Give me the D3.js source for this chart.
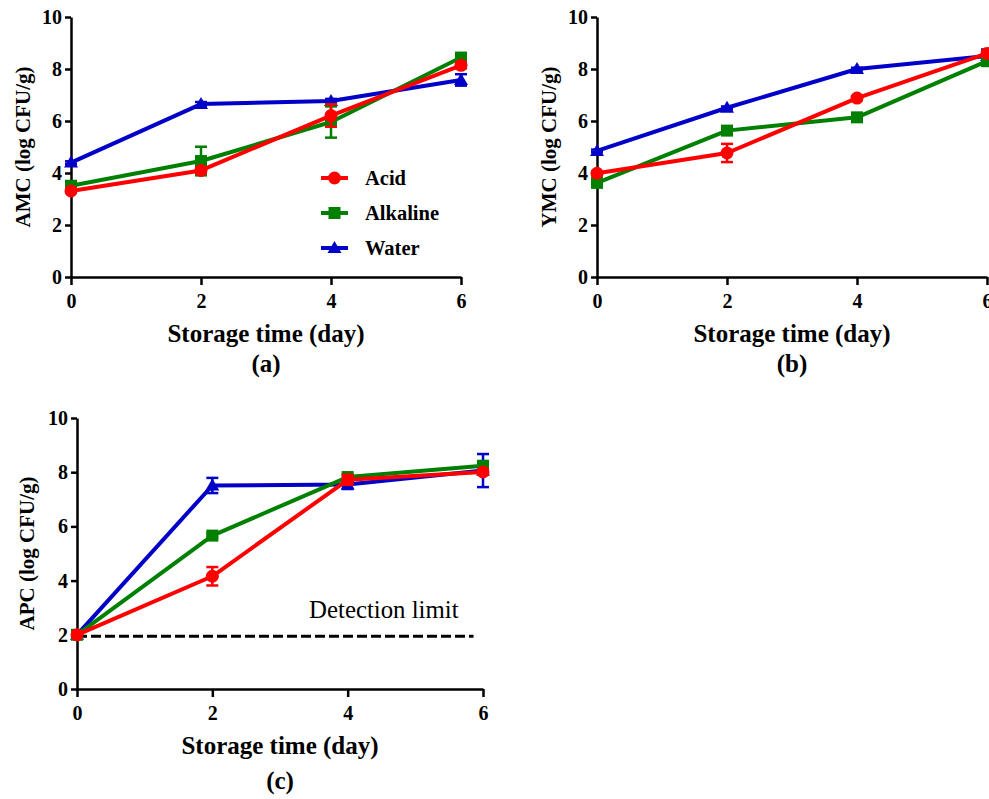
<!DOCTYPE html>
<html>
<head>
<meta charset="utf-8">
<script src="https://cdn.jsdelivr.net/npm/d3@7"></script>
<style>
  body { margin: 0; background: #fff; }
  svg, svg text { font-family: "Liberation Serif", "Times New Roman", Times, "DejaVu Serif", serif; }
</style>
</head>
<body>
<svg id="chart" width="989" height="799"></svg>
<script>
var serifFont = "'Liberation Serif', 'Times New Roman', Times, 'DejaVu Serif', serif";

// storage days and y ticks
var days = [0, 2, 4, 6];
var yTicks = [0, 2, 4, 6, 8, 10];
var seriesNames = ["Acid", "Alkaline", "Water"];
var seriesColors = ["#ff0000", "#008000", "#0000c8"];

// (a) AMC
var amcAcid = [3.31, 4.10, 6.21, 8.14];
var amcAcidErr = [0.08, 0.12, 0.43, 0.12];
var amcAlkaline = [3.51, 4.46, 5.96, 8.44];
var amcAlkalineErr = [0.10, 0.55, 0.60, 0.10];
var amcWater = [4.40, 6.65, 6.77, 7.58];
var amcWaterErr = [0.05, 0.08, 0.08, 0.22];

// (b) YMC
var ymcAcid = [3.99, 4.77, 6.88, 8.60];
var ymcAcidErr = [0.08, 0.35, 0.08, 0.10];
var ymcAlkaline = [3.62, 5.63, 6.14, 8.30];
var ymcAlkalineErr = [0.08, 0.08, 0.08, 0.15];
var ymcWater = [4.85, 6.51, 8.00, 8.50];
var ymcWaterErr = [0.05, 0.05, 0.05, 0.25];

// (c) APC
var apcAcid = [2.00, 4.16, 7.72, 8.01];
var apcAcidErr = [0.02, 0.34, 0.18, 0.10];
var apcAlkaline = [2.00, 5.66, 7.82, 8.24];
var apcAlkalineErr = [0.02, 0.08, 0.08, 0.10];
var apcWater = [2.00, 7.51, 7.55, 8.06];
var apcWaterErr = [0.02, 0.28, 0.17, 0.61];
var detectionLimit = 1.95;

var panels = [
  { tag: "(a)", yLabel: "AMC (log CFU/g)", left: 71, top: 17, width: 390, height: 260, yLabelX: 23, tagGap: 95,
    means: [amcAcid, amcAlkaline, amcWater], errs: [amcAcidErr, amcAlkalineErr, amcWaterErr], legend: true },
  { tag: "(b)", yLabel: "YMC (log CFU/g)", left: 597, top: 17, width: 390, height: 260, yLabelX: 549, tagGap: 95,
    means: [ymcAcid, ymcAlkaline, ymcWater], errs: [ymcAcidErr, ymcAlkalineErr, ymcWaterErr] },
  { tag: "(c)", yLabel: "APC (log CFU/g)", left: 77, top: 418, width: 406, height: 271, yLabelX: 27, tagGap: 100,
    means: [apcAcid, apcAlkaline, apcWater], errs: [apcAcidErr, apcAlkalineErr, apcWaterErr], limit: detectionLimit }
];

var svg = d3.select("#chart");

function drawMarker(g, name, color, cx, cy) {
  if (name == "Acid") {
    g.append("circle").attr("cx", cx).attr("cy", cy).attr("r", 6.5).attr("fill", color);
  } else if (name == "Alkaline") {
    g.append("rect").attr("x", cx - 6).attr("y", cy - 6).attr("width", 12).attr("height", 12).attr("fill", color);
  } else {
    g.append("path")
      .attr("d", "M" + cx + "," + (cy - 7) + "L" + (cx + 7) + "," + (cy + 5) + "L" + (cx - 7) + "," + (cy + 5) + "Z")
      .attr("fill", color);
  }
}

panels.forEach(function(p) {
  var g = svg.append("g").attr("transform", "translate(" + p.left + "," + p.top + ")");

  var x = d3.scaleLinear().domain([0, 6]).range([0, p.width]);
  var y = d3.scaleLinear().domain([0, 10]).range([p.height, 0]);

  // axes
  var xAxis = g.append("g")
    .attr("transform", "translate(0," + p.height + ")")
    .call(d3.axisBottom(x).tickValues(days).tickFormat(d3.format("d"))
      .tickSize(8).tickSizeOuter(0).tickPadding(9));
  var yAxis = g.append("g")
    .call(d3.axisLeft(y).tickValues(yTicks).tickFormat(d3.format("d"))
      .tickSize(6).tickSizeOuter(0).tickPadding(3));

  [xAxis, yAxis].forEach(function(a) {
    a.attr("font-family", serifFont);
    a.selectAll("path, line").attr("stroke", "#000").attr("stroke-width", 2.5);
    a.selectAll("text")
      .attr("fill", "#000")
      .style("font-family", serifFont)
      .style("font-size", "20px")
      .style("font-weight", "bold");
  });

  // axis titles
  g.append("text")
    .attr("x", p.width / 2)
    .attr("y", p.height + 65)
    .attr("text-anchor", "middle")
    .style("font-size", "25px")
    .style("font-weight", "bold")
    .text("Storage time (day)");

  svg.append("text")
    .attr("transform", "translate(" + p.yLabelX + "," + (p.top + p.height / 2) + ") rotate(-90)")
    .attr("text-anchor", "middle")
    .attr("dominant-baseline", "central")
    .style("font-size", "21px")
    .style("font-weight", "bold")
    .text(p.yLabel);

  g.append("text")
    .attr("x", p.width / 2)
    .attr("y", p.height + p.tagGap)
    .attr("text-anchor", "middle")
    .style("font-size", "25px")
    .style("font-weight", "bold")
    .text(p.tag);

  // detection limit
  if (p.limit != null) {
    g.append("line")
      .attr("x1", x(0)).attr("x2", x(5.86))
      .attr("y1", y(p.limit)).attr("y2", y(p.limit))
      .attr("stroke", "#000")
      .attr("stroke-width", 3)
      .attr("stroke-dasharray", "10,4");
    g.append("text")
      .attr("x", x(3.43))
      .attr("y", y(p.limit) - 18)
      .style("font-size", "24.8px")
      .text("Detection limit");
  }

  var line = d3.line()
    .x(function(d, i) { return x(days[i]); })
    .y(function(d) { return y(d); });

  // draw water first, acid last (on top)
  [2, 1, 0].forEach(function(s) {
    var color = seriesColors[s];
    var name = seriesNames[s];
    var sg = g.append("g");

    p.means[s].forEach(function(m, i) {
      var e = p.errs[s][i];
      var cx = x(days[i]);
      sg.append("line")
        .attr("x1", cx).attr("x2", cx)
        .attr("y1", y(m - e)).attr("y2", y(m + e))
        .attr("stroke", color).attr("stroke-width", 2.5);
      [m - e, m + e].forEach(function(v) {
        sg.append("line")
          .attr("x1", cx - 6).attr("x2", cx + 6)
          .attr("y1", y(v)).attr("y2", y(v))
          .attr("stroke", color).attr("stroke-width", 2.5);
      });
    });

    sg.append("path")
      .datum(p.means[s])
      .attr("d", line)
      .attr("fill", "none")
      .attr("stroke", color)
      .attr("stroke-width", 4)
      .attr("stroke-linejoin", "round");

    p.means[s].forEach(function(m, i) {
      drawMarker(sg, name, color, x(days[i]), y(m));
    });
  });

  // legend
  if (p.legend) {
    var lg = svg.append("g").attr("transform", "translate(321,178)");
    seriesNames.forEach(function(name, i) {
      var row = lg.append("g").attr("transform", "translate(0," + (i * 35) + ")");
      row.append("line")
        .attr("x1", 0).attr("x2", 27)
        .attr("y1", 0).attr("y2", 0)
        .attr("stroke", seriesColors[i]).attr("stroke-width", 4);
      drawMarker(row, name, seriesColors[i], 13.5, 0);
      row.append("text")
        .attr("x", 44)
        .attr("y", 0)
        .attr("dominant-baseline", "central")
        .style("font-size", "20.5px")
        .style("font-weight", "bold")
        .text(name);
    });
  }
});
</script>
</body>
</html>
